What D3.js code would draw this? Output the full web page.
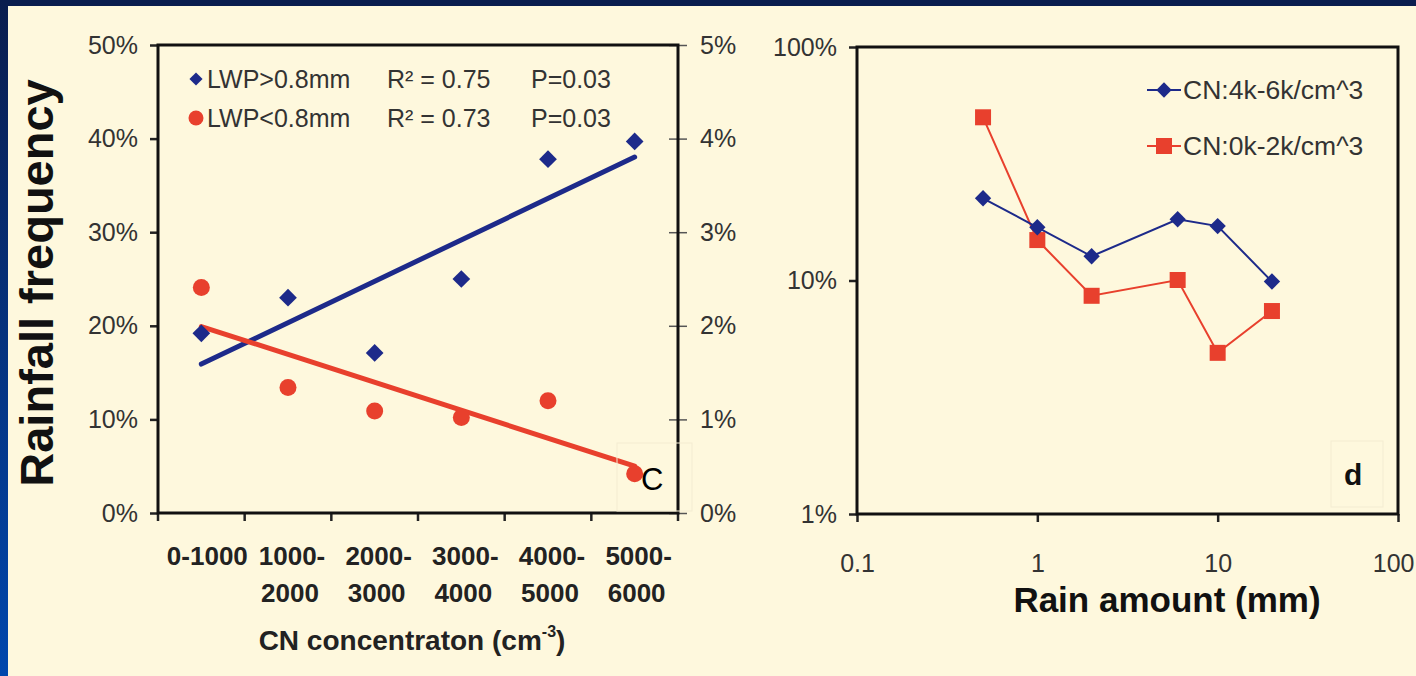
<!DOCTYPE html>
<html>
<head>
<meta charset="utf-8">
<script src="https://cdn.jsdelivr.net/npm/d3@7"></script>
<style>
  body { margin: 0; background: #fef8dd; }
  svg text { font-family: "Liberation Sans", Arial, sans-serif; }
</style>
</head>
<body>
<div id="chart"></div>
<script>

// ---- panel c data ----
var cnCategories = ["0-1000", "1000-2000", "2000-3000", "3000-4000", "4000-5000", "5000-6000"],
    cnLabelTop = ["0-1000", "1000-", "2000-", "3000-", "4000-", "5000-"],
    cnLabelBottom = ["", "2000", "3000", "4000", "5000", "6000"];

// LWP>0.8mm on left axis, LWP<0.8mm on right axis
var freqHighLwp = [0.192, 0.230, 0.171, 0.250, 0.378, 0.397],
    freqLowLwp = [0.0241, 0.0134, 0.0109, 0.0102, 0.0120, 0.0042];

var leftTicks = [0, 0.1, 0.2, 0.3, 0.4, 0.5],
    rightTicks = [0, 0.01, 0.02, 0.03, 0.04, 0.05];

var legendC = [
    {name: "LWP>0.8mm", r2: "R\u00B2 = 0.75", p: "P=0.03"},
    {name: "LWP<0.8mm", r2: "R\u00B2 = 0.73", p: "P=0.03"}
];

// ---- panel d data ----
var rainAmounts = [0.5, 1, 2, 6, 10, 20],
    freqHighCN = [0.225, 0.169, 0.127, 0.183, 0.171, 0.099],
    freqLowCN = [0.50, 0.149, 0.086, 0.1005, 0.049, 0.074];

var rainTicks = [0.1, 1, 10, 100],
    freqTicks = [0.01, 0.1, 1];

var legendD = ["CN:4k-6k/cm^3", "CN:0k-2k/cm^3"];

var navy = "#1d2a8a",
    red = "#e8402d",
    tickText = "#333";

var W = 1416, H = 676;

var svg = d3.select("#chart").append("svg")
    .attr("width", W)
    .attr("height", H);

// slide frame
var grad = svg.append("defs").append("linearGradient")
    .attr("id", "frame")
    .attr("x1", 0).attr("y1", 0).attr("x2", 0).attr("y2", 1);
grad.append("stop").attr("offset", "0%").attr("stop-color", "#0a1d4e");
grad.append("stop").attr("offset", "100%").attr("stop-color", "#0047ad");

svg.append("rect").attr("width", W).attr("height", H).attr("fill", "#fef8dd");
svg.append("rect").attr("width", W).attr("height", 6).attr("fill", "#0a1d4e");
svg.append("rect").attr("width", 8).attr("height", H).attr("fill", "url(#frame)");

// ================= panel c =================
var c = {left: 158, right: 678, top: 45, bottom: 513};

var x = d3.scaleBand()
    .domain(cnCategories)
    .range([c.left, c.right]);

var yL = d3.scaleLinear().domain([0, 0.5]).range([c.bottom, c.top]);
var yR = d3.scaleLinear().domain([0, 0.05]).range([c.bottom, c.top]);

var pct = d3.format(".0%");

var gC = svg.append("g");

// left axis
var axL = gC.append("g")
    .attr("transform", "translate(" + c.left + ",0)")
    .call(d3.axisLeft(yL).tickValues(leftTicks).tickFormat(pct).tickSize(8).tickPadding(12));
axL.select(".domain").remove();
axL.selectAll("line").attr("stroke", "#222").attr("stroke-width", 2.5);
axL.selectAll("text").attr("font-size", 25).attr("fill", tickText);

// right axis
var axR = gC.append("g")
    .attr("transform", "translate(" + c.right + ",0)")
    .call(d3.axisRight(yR).tickValues(rightTicks).tickFormat(pct).tickSize(9).tickPadding(13));
axR.select(".domain").remove();
axR.selectAll("line").attr("x1", -9).attr("stroke", "#555").attr("stroke-width", 1.5);
axR.selectAll("text").attr("font-size", 25).attr("fill", tickText);

// category boundary ticks
var bounds = cnCategories.map(function(d) { return x(d); }).concat([x.range()[1]]);
gC.selectAll(".xtick")
    .data(bounds)
    .join("line")
    .attr("class", "xtick")
    .attr("x1", d => d).attr("x2", d => d)
    .attr("y1", c.bottom).attr("y2", c.bottom + 8)
    .attr("stroke", "#222").attr("stroke-width", 2.5);

// category labels, two lines
var xLab = gC.selectAll(".xlab")
    .data(cnCategories)
    .join("text")
    .attr("class", "xlab")
    .attr("text-anchor", "middle")
    .attr("font-size", 26)
    .attr("font-weight", "bold")
    .attr("fill", "#222");
xLab.append("tspan")
    .attr("x", (d, i) => x(d) + x.bandwidth() / 2 + (i == 0 ? 6 : 4))
    .attr("y", c.bottom + 52)
    .text((d, i) => cnLabelTop[i]);
xLab.append("tspan")
    .attr("x", (d, i) => x(d) + x.bandwidth() / 2 + 2)
    .attr("y", c.bottom + 89)
    .text((d, i) => cnLabelBottom[i]);

var xTitle = gC.append("text")
    .attr("x", 412).attr("y", 650)
    .attr("text-anchor", "middle")
    .attr("font-size", 28)
    .attr("font-weight", "bold")
    .attr("fill", "#222");
xTitle.append("tspan").text("CN concentraton (cm");
xTitle.append("tspan").attr("font-size", 16).attr("dy", -13).text("-3");
xTitle.append("tspan").attr("dy", 13).text(")");

gC.append("text")
    .attr("transform", "translate(53,283) rotate(-90)")
    .attr("text-anchor", "middle")
    .attr("font-size", 47)
    .attr("font-weight", "bold")
    .attr("fill", "#111")
    .text("Rainfall frequency");

// trend lines (least squares through the points)
function fitLine(vals) {
    var n = vals.length,
        mx = (n - 1) / 2,
        my = d3.mean(vals),
        sxy = d3.sum(vals, (v, i) => (i - mx) * (v - my)),
        sxx = d3.sum(vals, (v, i) => (i - mx) * (i - mx)),
        b = sxy / sxx;
    return [my - b * mx, my + b * (n - 1 - mx)];
}

var cx = d => x(d) + x.bandwidth() / 2;
var first = cnCategories[0], last = cnCategories[cnCategories.length - 1];

var fitHigh = fitLine(freqHighLwp),
    fitLow = fitLine(freqLowLwp);

gC.append("line")
    .attr("x1", cx(first)).attr("y1", yL(fitHigh[0]))
    .attr("x2", cx(last)).attr("y2", yL(fitHigh[1]))
    .attr("stroke", navy).attr("stroke-width", 5).attr("stroke-linecap", "round");

gC.append("line")
    .attr("x1", cx(first)).attr("y1", yR(fitLow[0]))
    .attr("x2", cx(last)).attr("y2", yR(fitLow[1]))
    .attr("stroke", red).attr("stroke-width", 5).attr("stroke-linecap", "round");

var diamond = d3.symbol().type(d3.symbolDiamond2);

gC.selectAll(".dHigh")
    .data(freqHighLwp)
    .join("path")
    .attr("class", "dHigh")
    .attr("d", diamond.size(200))
    .attr("transform", (d, i) => "translate(" + cx(cnCategories[i]) + "," + yL(d) + ")")
    .attr("fill", navy);

gC.selectAll(".dLow")
    .data(freqLowLwp)
    .join("circle")
    .attr("class", "dLow")
    .attr("cx", (d, i) => cx(cnCategories[i]))
    .attr("cy", d => yR(d))
    .attr("r", 8.5)
    .attr("fill", red);

// plot box
gC.append("rect")
    .attr("x", c.left).attr("y", c.top)
    .attr("width", c.right - c.left).attr("height", c.bottom - c.top)
    .attr("fill", "none").attr("stroke", "#111").attr("stroke-width", 3);

// legend
var legC = gC.selectAll(".legC")
    .data(legendC)
    .join("g")
    .attr("class", "legC")
    .attr("transform", (d, i) => "translate(196," + (79 + i * 39) + ")");
legC.filter((d, i) => i == 0).append("path")
    .attr("d", diamond.size(110)).attr("fill", navy);
legC.filter((d, i) => i == 1).append("circle")
    .attr("r", 7.5).attr("fill", red);
legC.append("text").attr("x", 11).attr("y", 9)
    .attr("font-size", 25).attr("fill", "#333").text(d => d.name);
legC.append("text").attr("x", 191).attr("y", 9)
    .attr("font-size", 25).attr("fill", "#333").text(d => d.r2);
legC.append("text").attr("x", 335).attr("y", 9)
    .attr("font-size", 25).attr("fill", "#333").text(d => d.p);

// panel tag
gC.append("rect")
    .attr("x", 617).attr("y", 443).attr("width", 75).attr("height", 68)
    .attr("fill", "none").attr("stroke", "#f3ecd2").attr("stroke-width", 1);
gC.append("text")
    .attr("x", 641).attr("y", 490)
    .attr("font-size", 31).attr("fill", "#000").text("C");

// ================= panel d =================
var d = {left: 857, right: 1398, top: 47, bottom: 514};

var xd = d3.scaleLog().domain([0.1, 100]).range([d.left, d.right]);
var yd = d3.scaleLog().domain([0.01, 1]).range([d.bottom, d.top]);

var gD = svg.append("g");

var axDL = gD.append("g")
    .attr("transform", "translate(" + d.left + ",0)")
    .call(d3.axisLeft(yd).tickValues(freqTicks).tickFormat(pct).tickSize(8).tickPadding(12));
axDL.select(".domain").remove();
axDL.selectAll("line").attr("stroke", "#222").attr("stroke-width", 2.5);
axDL.selectAll("text").attr("font-size", 25).attr("fill", tickText);

var axDB = gD.append("g")
    .attr("transform", "translate(0," + d.bottom + ")")
    .call(d3.axisBottom(xd).tickValues(rainTicks).tickFormat(d3.format("~g")).tickSize(8).tickPadding(32));
axDB.select(".domain").remove();
axDB.selectAll("line").attr("stroke", "#222").attr("stroke-width", 2.5);
axDB.selectAll("text").attr("font-size", 25).attr("fill", tickText);
// keep the last label inside the page
axDB.selectAll("text").filter(v => v == 100)
    .attr("text-anchor", "end").attr("dx", 1416 - 2 - d.right);

gD.append("text")
    .attr("x", 1167).attr("y", 612)
    .attr("text-anchor", "middle")
    .attr("font-size", 35)
    .attr("font-weight", "bold")
    .attr("fill", "#111")
    .text("Rain amount (mm)");

var lineD = d3.line()
    .x((v, i) => xd(rainAmounts[i]))
    .y(v => yd(v));

gD.append("path")
    .datum(freqLowCN)
    .attr("d", lineD)
    .attr("fill", "none").attr("stroke", red).attr("stroke-width", 2);

gD.append("path")
    .datum(freqHighCN)
    .attr("d", lineD)
    .attr("fill", "none").attr("stroke", navy).attr("stroke-width", 2);

gD.selectAll(".sqLow")
    .data(freqLowCN)
    .join("rect")
    .attr("class", "sqLow")
    .attr("x", (v, i) => xd(rainAmounts[i]) - 8)
    .attr("y", v => yd(v) - 8)
    .attr("width", 16).attr("height", 16)
    .attr("fill", red);

gD.selectAll(".dmHigh")
    .data(freqHighCN)
    .join("path")
    .attr("class", "dmHigh")
    .attr("d", diamond.size(170))
    .attr("transform", (v, i) => "translate(" + xd(rainAmounts[i]) + "," + yd(v) + ")")
    .attr("fill", navy);

gD.append("rect")
    .attr("x", d.left).attr("y", d.top)
    .attr("width", d.right - d.left).attr("height", d.bottom - d.top)
    .attr("fill", "none").attr("stroke", "#111").attr("stroke-width", 3);

// legend
var legD = gD.selectAll(".legD")
    .data(legendD)
    .join("g")
    .attr("class", "legD")
    .attr("transform", (v, i) => "translate(1164," + (90 + i * 56) + ")");
legD.append("line")
    .attr("x1", -17).attr("x2", 17)
    .attr("stroke", (v, i) => i == 0 ? navy : red).attr("stroke-width", 2);
legD.filter((v, i) => i == 0).append("path")
    .attr("d", diamond.size(150)).attr("fill", navy);
legD.filter((v, i) => i == 1).append("rect")
    .attr("x", -8).attr("y", -8).attr("width", 16).attr("height", 16).attr("fill", red);
legD.append("text").attr("x", 19).attr("y", 9)
    .attr("font-size", 26.5).attr("fill", "#333").text(v => v);

gD.append("rect")
    .attr("x", 1331).attr("y", 441).attr("width", 52).attr("height", 66)
    .attr("fill", "none").attr("stroke", "#f3ecd2").attr("stroke-width", 1);
gD.append("text")
    .attr("x", 1344).attr("y", 485)
    .attr("font-size", 30).attr("font-weight", "bold").attr("fill", "#111").text("d");

</script>
</body>
</html>
